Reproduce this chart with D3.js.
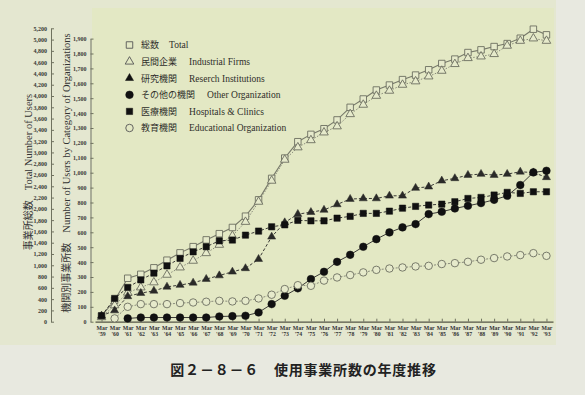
<!DOCTYPE html>
<html><head><meta charset="utf-8">
<script src="https://cdn.jsdelivr.net/npm/d3@7"></script>
<style>
html,body{margin:0;padding:0;background:#e7e8dd;}
svg{display:block;}
</style></head>
<body>
<svg id="c" width="585" height="395"></svg>
<script>
// ---- data ----
const years = ["59","60","61","62","63","64","65","66","67","68","69","70","71","72","73","74","75","76","77","78","79","80","81","82","83","84","85","86","87","88","89","90","91","92","93"];
const total =        [100,380,770,840,955,1090,1220,1330,1450,1560,1670,1870,2160,2540,2900,3190,3320,3420,3576,3799,3947,4106,4194,4290,4371,4465,4576,4654,4770,4818,4876,4929,5024,5184,5084];
const industrial =   [30,110,195,230,264,315,364,409,460,516,576,670,805,946,1087,1170,1218,1270,1311,1393,1456,1516,1550,1590,1613,1646,1684,1729,1769,1780,1796,1852,1885,1901,1885];
const research =     [40,75,170,192,207,234,246,261,286,310,335,358,420,570,666,722,735,750,787,823,827,827,845,845,897,906,946,962,984,991,984,991,1006,1001,969];
const other =        [null,null,22,28,28,28,28,28,28,35,37,40,62,118,174,224,286,335,402,449,503,554,599,633,655,722,738,760,778,796,818,845,917,1002,1013];
const hospital =     [40,156,230,281,326,375,425,469,503,543,548,581,608,637,650,680,677,677,695,707,727,727,742,762,774,783,789,805,827,834,850,868,861,872,872];
const education =    [null,22,100,118,118,118,125,129,134,140,136,140,156,181,219,245,241,276,297,313,331,348,357,364,371,375,387,393,402,416,427,438,447,460,442];
const leftTicks = [0,200,400,600,800,1000,1200,1400,1600,1800,2000,2200,2400,2600,2800,3000,3200,3400,3600,3800,4000,4200,4400,4600,4800,5000,5200];
const rightTicks = [0,100,200,300,400,500,600,700,800,900,1000,1100,1200,1300,1400,1500,1600,1700,1800,1900];
const legendJa = ["総数","民間企業","研究機関","その他の機関","医療機関","教育機関"];
const legendEn = ["Total","Industrial Firms","Reserch Institutions","Other Organization","Hospitals & Clinics","Educational Organization"];
const leftTitle = "事業所総数　Total Number of Users";
const rightTitle = "機関別事業所数　Number of Users by Category of Organizations";
const chartTitle = "図２－８－６　使用事業所数の年度推移";

// ---- drawing ----
const svg = d3.select("#c");
const serif = "'Liberation Serif','DejaVu Serif',serif";
const jp = "'Noto Sans CJK JP','Noto Sans CJK SC',sans-serif";
const ink = "#2a2a28";

svg.append("rect").attr("x",0).attr("y",0).attr("width",585).attr("height",395).attr("fill","#e8e9e0");
svg.append("rect").attr("x",0).attr("y",0).attr("width",556).attr("height",345).attr("fill","#e4e7d0");
svg.append("rect").attr("x",92).attr("y",8).attr("width",462).attr("height",316).attr("fill","#e3e8c4");

const x = d3.scalePoint().domain(years).range([95,553]).padding(0.5);
const yL = d3.scaleLinear().domain([0,5200]).range([321.7,28.3]);
const yR = d3.scaleLinear().domain([0,1900]).range([321.7,38.6]);

// left axis
const gL = svg.append("g").attr("transform","translate(51,0)")
  .call(d3.axisLeft(yL).tickValues(leftTicks).tickFormat(d3.format(",")).tickSizeInner(-3).tickSizeOuter(0).tickPadding(4));
// right (category) axis
const gR = svg.append("g").attr("transform","translate(90.5,0)")
  .call(d3.axisLeft(yR).tickValues(rightTicks).tickFormat(d3.format(",")).tickSizeInner(-3).tickSizeOuter(0).tickPadding(4));
[gL,gR].forEach(g=>{
  g.select(".domain").attr("stroke","#6f725f").attr("stroke-width",1);
  g.selectAll(".tick line").attr("stroke","#6f725f");
  g.selectAll(".tick text").attr("font-family",serif).attr("font-size",6).attr("font-weight","bold").attr("fill","#3a3a36");
});

// x axis
const gX = svg.append("g").attr("transform","translate(0,321.7)")
  .call(d3.axisBottom(x).tickSizeInner(-3).tickSizeOuter(0).tickPadding(3).tickFormat(""));
gX.select(".domain").attr("stroke","#555548").attr("stroke-width",1.2);
gX.selectAll(".tick line").attr("stroke","#6f725f");
gX.selectAll(".tick").each(function(d){
  const t = d3.select(this).append("text").attr("font-family",serif).attr("font-size",5.8)
    .attr("font-weight","bold").attr("fill","#333").attr("text-anchor","middle");
  t.append("tspan").attr("x",0).attr("y",8).text("Mar");
  t.append("tspan").attr("x",0).attr("y",14).text("'"+d);
});

// axis titles
svg.append("text").attr("transform","translate(32,172) rotate(-90)").attr("text-anchor","middle")
  .attr("font-size",10).attr("fill","#333")
  .call(t=>{
    const parts = leftTitle.split("　");
    t.append("tspan").attr("font-family",jp).text(parts[0]+"　");
    t.append("tspan").attr("font-family",serif).attr("font-size",10.5).text(parts[1]);
  });
svg.append("text").attr("transform","translate(70,173) rotate(-90)").attr("text-anchor","middle")
  .attr("font-size",10).attr("fill","#333")
  .call(t=>{
    const parts = rightTitle.split("　");
    t.append("tspan").attr("font-family",jp).text(parts[0]+"　");
    t.append("tspan").attr("font-family",serif).attr("font-size",10.5).text(parts[1]);
  });

// series
const series = [
  {vals:total, scale:yL, dash:null, stroke:"#77796a", sw:1.1, marker:"sq", fill:"#e6eacb", mstroke:"#6c6e60"},
  {vals:industrial, scale:yR, dash:"1.5,1.5", stroke:"#8a8c7c", sw:1, marker:"tri", fill:"#e6eacb", mstroke:"#6c6e60"},
  {vals:research, scale:yR, dash:"3,2", stroke:"#3a3a36", sw:1, marker:"tri", fill:ink, mstroke:ink},
  {vals:other, scale:yR, dash:null, stroke:"#3a3a36", sw:1, marker:"circ", fill:"#111", mstroke:"#111"},
  {vals:hospital, scale:yR, dash:"3,2", stroke:"#3a3a36", sw:1, marker:"sq", fill:"#111", mstroke:"#111"},
  {vals:education, scale:yR, dash:"2,1.5", stroke:"#8a8c7c", sw:1, marker:"circ", fill:"#e6eacb", mstroke:"#6c6e60"}
];
const sym = {sq:d3.symbolSquare, tri:d3.symbolTriangle, circ:d3.symbolCircle};
const sizes = {sq:42, tri:32, circ:44};
const fillSizes = {sq:40, tri:28, circ:46};

series.forEach(s=>{
  const pts = years.map((yv,i)=>({yv, v:s.vals[i]})).filter(p=>p.v!=null);
  const line = d3.line().x(p=>x(p.yv)).y(p=>s.scale(p.v));
  svg.append("path").datum(pts).attr("d",line).attr("fill","none")
    .attr("stroke",s.stroke).attr("stroke-width",s.sw).attr("stroke-dasharray",s.dash);
});
series.forEach(s=>{
  const pts = years.map((yv,i)=>({yv, v:s.vals[i]})).filter(p=>p.v!=null);
  const open = s.fill !== "#111" && s.fill !== ink;
  svg.append("g").selectAll("path").data(pts).join("path")
    .attr("transform",p=>`translate(${x(p.yv)},${s.scale(p.v)})`)
    .attr("d",d3.symbol().type(sym[s.marker]).size(open?sizes[s.marker]:fillSizes[s.marker]))
    .attr("fill",s.fill).attr("stroke",s.mstroke).attr("stroke-width",open?0.9:0.5);
});

// legend
const lg = svg.append("g");
legendJa.forEach((ja,i)=>{
  const yy = 45 + i*16.6;
  const s = series[i];
  const open = s.fill !== "#111" && s.fill !== ink;
  lg.append("path").attr("transform",`translate(129.5,${yy})`)
    .attr("d",d3.symbol().type(sym[s.marker]).size(open?sizes[s.marker]:fillSizes[s.marker]))
    .attr("fill",open?"none":"#111").attr("stroke",open?"#555":"#111").attr("stroke-width",open?0.9:0.5);
  const t = lg.append("text").attr("x",141).attr("y",yy+3.3).attr("fill","#2e2e2a");
  t.append("tspan").attr("font-family",jp).attr("font-size",9).text(ja);
  t.append("tspan").attr("font-family",serif).attr("font-size",9.5).attr("dx",i===0?10:12).text(legendEn[i]);
});

// title
svg.append("text").attr("x",303.5).attr("y",374.5).attr("text-anchor","middle")
  .attr("font-family",jp).attr("font-weight","bold").attr("font-size",14).attr("letter-spacing",0.8).attr("fill","#222")
  .text(chartTitle);
</script>
</body></html>
